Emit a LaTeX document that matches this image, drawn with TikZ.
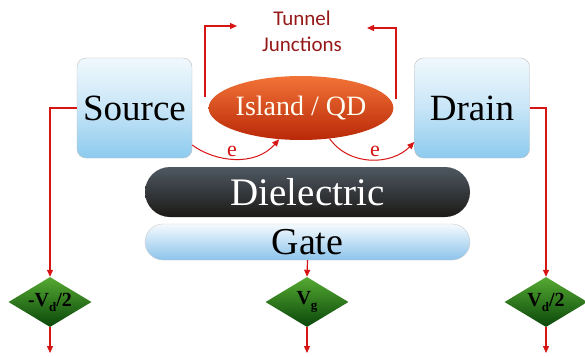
\documentclass[tikz,border=0pt]{standalone}
\usepackage{fontspec}
\setmainfont{Liberation Serif}
\newfontfamily\tjfont{Carlito}
\usetikzlibrary{shapes.geometric,arrows.meta}
\definecolor{wire}{RGB}{215,20,20}
\definecolor{tjred}{RGB}{150,25,25}
\definecolor{elTop}{RGB}{240,248,253}
\definecolor{elBot}{RGB}{140,202,238}
\definecolor{isTop}{RGB}{242,115,55}
\definecolor{isMid}{RGB}{225,78,25}
\definecolor{isBot}{RGB}{185,40,8}
\definecolor{dlTop}{RGB}{78,88,98}
\definecolor{dlMid}{RGB}{45,45,48}
\definecolor{dlBot}{RGB}{28,25,22}
\definecolor{gtTop}{RGB}{245,250,254}
\definecolor{gtBot}{RGB}{140,195,235}
\definecolor{vTop}{RGB}{85,170,50}
\definecolor{vBot}{RGB}{10,70,10}
\begin{document}
\begin{tikzpicture}[x=1pt,y=-1pt,
  electrode/.style={draw=black!25, rounded corners=9pt, minimum width=115pt, minimum height=100pt,
    top color=elTop, bottom color=elBot, middle color=elTop!60!elBot, inner sep=0,
    font=\fontsize{37}{40}\selectfont},
  volt/.style={diamond, aspect=1.66, minimum width=83pt, minimum height=50pt, inner sep=0,
    top color=vTop, bottom color=vBot, font=\bfseries\fontsize{20}{20}\selectfont},
  wirearrow/.style={draw=wire, line width=1.2pt, -{Triangle[length=7pt,width=6pt]}},
  elarrow/.style={draw=wire, line width=1pt, -{Triangle[length=7pt,width=6pt]}},
  elabel/.style={text=wire, font=\fontsize{22}{22}\selectfont, inner sep=0}]
\useasboundingbox (0,0) rectangle (585,356);
\fill[white] (0,0) rectangle (585,356);

% electrodes and island
\node[electrode] (source) at (134.5,108) {Source};
\node[electrode] (drain) at (472,108) {Drain};
\node[ellipse, minimum width=164pt, minimum height=64pt, inner sep=0,
      top color=isTop, middle color=isMid, bottom color=isBot, text=white!95!yellow,
      font=\fontsize{28}{30}\selectfont] (island) at (301,108) {Island / QD};

% dielectric and gate
\node[rounded corners=25pt, minimum width=325pt, minimum height=50pt, inner sep=0,
      top color=dlTop, middle color=dlMid, bottom color=dlBot, text=white,
      font=\fontsize{39}{40}\selectfont] (diel) at (307.5,192) {Dielectric};
\node[draw=black!20, rounded corners=18pt, minimum width=325pt, minimum height=36pt, inner sep=0,
      top color=gtTop, bottom color=gtBot,
      font=\fontsize{38}{38}\selectfont] (gate) at (307.5,242) {Gate};

% tunnel junctions label
\node[text=tjred, font=\tjfont\fontsize{21}{26}\selectfont, align=center] (tj) at (302,31) {Tunnel\\Junctions};
\coordinate (tl0) at (205,97);
\coordinate (tl1) at (237,26);
\coordinate (tr0) at (396,99);
\coordinate (tr1) at (367,28);
\draw[wirearrow] (tl0) |- (tl1);
\draw[wirearrow] (tr0) |- (tr1);

% electron paths
\draw[elarrow] ([yshift=-37pt]source.east) .. controls (215,162) and (255,167) .. (island.235);
\draw[elarrow] (island.-47) .. controls (350,167) and (392,165) .. ([yshift=-34pt]drain.west);
\node[elabel] (e1) at (232,151) {e};
\node[elabel] (e2) at (375,151) {e};

% voltage sources
\node[volt] (dL) at (50,302) {-V\raisebox{-0.25em}{\fontsize{13}{13}\selectfont d}/2};
\node[volt] (dG) at (307,302) {V\raisebox{-0.25em}{\fontsize{13}{13}\selectfont g}};
\node[volt] (dR) at (546,302) {V\raisebox{-0.25em}{\fontsize{13}{13}\selectfont d}/2};
\coordinate (eL) at (50,353);
\coordinate (eG) at (307,353);
\coordinate (eR) at (546,353);

\draw[wirearrow] (source.west) -| (dL.north);
\draw[wirearrow] (drain.east) -| (dR.north);
\draw[wirearrow] (gate.south) -- (dG.north);
\draw[wirearrow] (dL.south) -- (eL);
\draw[wirearrow] (dG.south) -- (eG);
\draw[wirearrow] (dR.south) -- (eR);
\end{tikzpicture}
\end{document}
